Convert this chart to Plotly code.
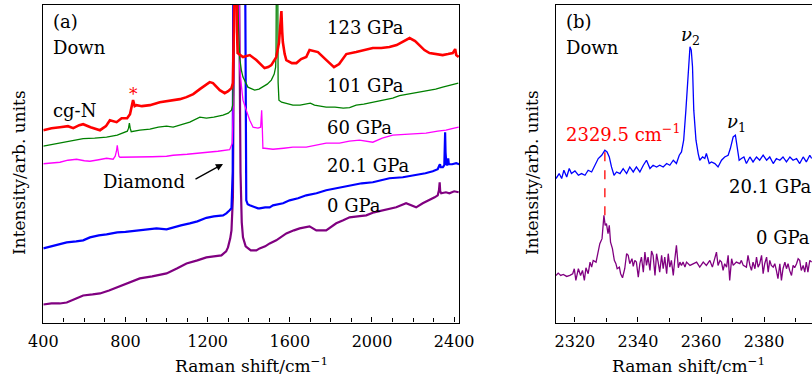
import plotly.graph_objects as go

# ---------------- Panel (a) data: Raman shift (cm^-1) vs intensity (arb. units)
red_x = [400, 440, 481, 520, 546, 575, 594, 630, 676, 705, 724, 757, 781, 808, 822, 830, 837, 845, 854, 880,
         919, 967, 1000, 1032, 1065, 1097, 1130, 1162, 1194, 1210, 1226, 1259, 1283, 1300, 1316, 1323, 1328,
         1333, 1338, 1343, 1346, 1372, 1405, 1437, 1477, 1495, 1510, 1534, 1547, 1555, 1559, 1563, 1566, 1575,
         1583, 1610, 1632, 1655, 1680, 1696, 1712, 1737, 1778, 1815, 1840, 1875, 1923, 1960, 2004, 2045, 2085,
         2120, 2150, 2183, 2210, 2231, 2255, 2280, 2310, 2344, 2370, 2393, 2405, 2410, 2422]
red_y = [192, 194, 195, 196, 194, 197, 198, 195, 192, 196, 202, 200, 204, 204, 208, 216, 222, 216, 217, 216,
         217, 220, 221, 222, 223, 225, 228, 233, 238, 240, 239, 232, 229, 231, 234, 239, 300,
         420, 420, 290, 269, 265, 267, 262, 254, 255, 257, 265, 279, 300, 311, 290, 280, 268,
         262, 259, 259, 263, 265, 272, 271, 270, 262, 255, 258, 268, 270, 272, 274, 274, 275,
         277, 280, 284, 281, 277, 272, 269, 268, 267, 268, 269, 273, 267, 265]

green_x = [400, 440, 481, 540, 594, 650, 708, 760, 789, 809, 815, 819, 823, 828, 870, 919, 960, 1000, 1032,
           1070, 1113, 1162, 1194, 1230, 1275, 1300, 1316, 1322, 1327, 1331, 1340, 1346, 1350, 1356, 1364,
           1372, 1396, 1429, 1450, 1469, 1490, 1510, 1524, 1531, 1533, 1536, 1540, 1543, 1547, 1560, 1583,
           1615, 1650, 1680, 1700, 1720, 1745, 1777, 1820, 1860, 1891, 1923, 1960, 2004, 2050, 2101, 2134,
           2198, 2240, 2280, 2310, 2344, 2380, 2420]
green_y = [176, 177.5, 179, 181, 183.5, 184, 185, 187, 189, 191, 194, 199, 194, 190.5, 192, 193, 195, 196, 195,
           197, 200, 205, 204, 205, 207, 209, 212, 217, 260, 420, 420, 320, 290, 264, 252,
           245, 235, 232, 233, 235, 238, 242, 248, 255, 270, 420, 420, 240, 222, 220, 219,
           217, 217, 218, 219, 217, 216, 215, 215, 214, 214.5, 217, 218, 220, 222, 224, 226.5,
           229, 230, 232, 233, 235, 237, 239]

magenta_x = [400, 440, 481, 520, 562, 600, 627, 670, 708, 740, 750, 756, 760, 764, 768, 773, 820, 873, 930,
             1000, 1032, 1100, 1162, 1194, 1250, 1307, 1320, 1325, 1330, 1352, 1356, 1365, 1372, 1388, 1405,
             1421, 1445, 1458, 1461, 1463, 1466, 1469, 1477, 1518, 1570, 1615, 1680, 1730, 1777, 1842, 1890,
             1939, 2004, 2050, 2101, 2180, 2263, 2320, 2360, 2400, 2422]
magenta_y = [158.5, 159.5, 160, 162, 163, 161.5, 161, 162.5, 164, 163, 166, 171, 177, 171, 166, 165, 165, 165, 165.5,
             166, 167, 168, 169, 170, 171, 172.5, 179, 220, 420, 420, 255, 235, 222, 212, 202,
             195, 194, 195, 205, 212, 195, 174, 174, 173, 174, 175, 175, 177, 179, 179, 181,
             182, 180, 184, 187, 188, 189, 191, 192, 194, 195]

blue_x = [400, 440, 480, 514, 560, 594, 627, 670, 708, 760, 800, 837, 900, 951, 1000, 1032, 1070, 1113, 1150,
          1194, 1230, 1275, 1291, 1307, 1316, 1322, 1326, 1381, 1384, 1388, 1395, 1405, 1445, 1453, 1480,
          1502, 1518, 1567, 1599, 1640, 1680, 1730, 1777, 1830, 1891, 1950, 2004, 2050, 2085, 2150, 2215,
          2260, 2296, 2320, 2328, 2331, 2335, 2345, 2352, 2355, 2356, 2358, 2362, 2368, 2371, 2374, 2390,
          2410, 2425]
blue_y = [74, 76, 78, 80, 81, 82, 85, 87, 88, 90, 90.5, 91.5, 93, 94, 93, 95, 97, 99, 101,
          104.5, 106, 107, 109, 112, 114, 150, 420, 420, 200, 122, 118, 117, 114, 114, 115,
          115, 117, 119, 122, 124, 127, 129, 132, 134, 137, 139, 140, 142, 144, 145, 147,
          149, 151, 153, 157, 158, 155, 155, 157, 175, 190, 170, 158, 157, 164, 158, 158,
          159, 158]

purple_x = [400, 440, 480, 514, 560, 594, 640, 676, 720, 757, 800, 840, 870, 930, 1000, 1050, 1097, 1150,
            1194, 1230, 1267, 1290, 1299, 1310, 1316, 1323, 1328, 1332, 1350, 1355, 1360, 1366, 1372, 1385,
            1410, 1437, 1453, 1480, 1502, 1534, 1560, 1583, 1620, 1648, 1696, 1729, 1777, 1826, 1860, 1891,
            1930, 1972, 2010, 2053, 2118, 2166, 2215, 2247, 2280, 2305, 2320, 2326, 2329.5, 2332, 2337, 2360,
            2377, 2400, 2422]
purple_y = [18, 19, 19, 20, 24, 27, 28, 29, 32, 35, 39, 42, 44, 46, 49, 54, 59, 62,
            65, 66, 67, 71, 75, 84, 92, 125, 250, 420, 420, 250, 150, 100, 85, 76,
            72, 72, 74, 76, 79, 82, 86, 89, 92, 94, 96, 92, 92, 99, 102, 105,
            106, 107, 110, 112, 115, 119, 115, 119, 122, 125, 127, 132, 140, 131, 129, 130,
            129, 131, 130]

# ---------------- Panel (b) data
b_blue_x = [2314.0, 2315.0, 2315.8, 2316.5, 2317.4, 2318.2, 2318.9, 2320.0, 2321.1, 2322.1, 2323.2, 2324.2,
            2325.3, 2326.3, 2327.4, 2328.5, 2329.5, 2330.2, 2330.9, 2331.6, 2332.4, 2333.2, 2334.3, 2335.3,
            2336.4, 2337.4, 2338.5, 2339.5, 2340.6, 2341.7, 2342.7, 2343.8, 2344.8, 2345.9, 2346.9, 2348.0,
            2349.1, 2350.1, 2351.2, 2352.2, 2353.1, 2353.8, 2354.5, 2355.2, 2355.9, 2356.5, 2356.9, 2357.3,
            2357.7, 2358.4, 2359.1, 2359.6, 2360.5, 2361.2, 2361.7, 2362.6, 2363.3, 2364.4, 2365.4, 2366.5,
            2367.5, 2368.6, 2369.3, 2370.2, 2370.9, 2371.5, 2372.1, 2372.8, 2373.6, 2374.4, 2375.5, 2376.5,
            2377.6, 2378.6, 2379.7, 2380.8, 2381.8, 2382.9, 2383.9, 2385.0, 2386.0, 2387.1, 2388.2, 2389.2,
            2390.3, 2391.3, 2392.4, 2393.4, 2394.5, 2395.1]
b_blue_y = [143.7, 148.7, 143.7, 152, 145.3, 153.7, 148.7, 151.3, 147, 148.7, 147, 152,
            150.3, 157, 163.7, 167, 172, 170.3, 165.3, 155.3, 147, 150.3, 148.7, 153.7,
            148.7, 155.3, 150.3, 155.3, 150.3, 157, 162, 153.7, 157, 155.3, 157, 155.3,
            158.7, 157, 162, 158.7, 167, 170.3, 182, 212, 248.7, 275.3, 272, 255.3,
            212, 182, 168.7, 162, 165.3, 163.7, 168.7, 158.7, 160.3, 158.7, 155.3, 162,
            165.3, 167, 173.7, 185.3, 187, 175.3, 162, 163.7, 165.3, 158.7, 165.3, 160.3,
            165.3, 162, 167, 162, 165.3, 158.7, 163.7, 162, 165.3, 160.3, 165.3, 162,
            163.7, 158.7, 165.3, 160.3, 167, 163.7]

b_purple_x = [2314.0, 2314.7, 2315.5, 2316.3, 2317.4, 2318.4, 2319.3, 2319.8, 2320.3, 2321.1, 2321.8, 2322.4,
              2323.0, 2323.5, 2324.2, 2324.8, 2325.3, 2325.8, 2326.7, 2327.2, 2327.9, 2328.6, 2329.2, 2329.6,
              2330.0, 2330.5, 2330.9, 2331.3, 2331.9, 2332.5, 2333.0, 2333.4, 2334.1, 2334.5, 2335.1, 2335.8,
              2336.4, 2336.9, 2337.4, 2338.1, 2338.5, 2339.0, 2339.5, 2340.1, 2340.6, 2341.1, 2341.7, 2342.2,
              2342.7, 2343.2, 2343.8, 2344.3, 2344.8, 2345.4, 2345.9, 2346.4, 2346.9, 2347.5, 2348.0, 2348.5,
              2349.1, 2349.6, 2350.1, 2350.6, 2351.2, 2351.7, 2352.2, 2352.8, 2353.3, 2353.8, 2354.3, 2354.9,
              2355.4, 2356.5, 2357.5, 2358.6, 2359.6, 2360.7, 2361.7, 2362.8, 2363.6, 2364.4, 2364.9, 2365.4,
              2366.0, 2366.5, 2367.0, 2367.5, 2368.1, 2368.6, 2369.1, 2369.7, 2370.2, 2371.2, 2372.3, 2372.8,
              2373.4, 2374.4, 2374.9, 2375.5, 2376.0, 2376.5, 2377.1, 2377.6, 2378.1, 2378.6, 2379.2, 2379.7,
              2380.2, 2380.8, 2381.3, 2381.8, 2382.3, 2382.9, 2383.4, 2383.9, 2384.4, 2385.0, 2385.5, 2386.0,
              2386.6, 2387.1, 2387.6, 2388.1, 2388.7, 2389.2, 2389.7, 2390.3, 2390.8, 2391.3, 2391.8, 2392.4,
              2392.9, 2393.4, 2393.9, 2394.5, 2395.1]
b_purple_y = [47, 49.3, 47, 48, 46, 47, 48.7, 53.7, 42, 53.7, 47, 52,
              42, 54.7, 48.7, 60.3, 55.3, 62, 60.3, 67, 78.7, 83.7, 107, 97,
              98.7, 88.7, 97, 80.3, 73.7, 62, 58.7, 53.7, 55.3, 48.7, 44.7, 53.7,
              68.7, 67, 58.7, 63.7, 56, 62, 60.3, 45.3, 58.7, 65.3, 50.3, 70.3,
              57, 65.3, 52, 71.3, 67, 47, 68.7, 60.3, 50.3, 67, 53.7, 65.3,
              48.7, 68.7, 55.3, 62, 47, 63.7, 77, 54.7, 60.3, 57, 60.3, 55.3,
              60.3, 57, 58.7, 60.3, 55.3, 60.3, 57, 62, 55.3, 63.7, 70.3, 57,
              62, 60.3, 52, 58.7, 55.3, 67, 42, 63.7, 57, 60.3, 58.7, 62,
              57, 55.3, 67, 57, 52, 60.3, 53.7, 65.3, 55.3, 58.7, 67, 48.7,
              58.7, 65.3, 50.3, 62, 57, 55.3, 58.7, 52, 43.7, 58.7, 42, 53.7,
              60.3, 53.7, 58.7, 52, 47, 57, 54.7, 58.7, 63.7, 62, 52, 57,
              50.3, 60.3, 50.3, 62, 60.3]

peak_b_x = 2329.5
peak_b_y = [170, 105]

x_ticks_a = [400, 800, 1200, 1600, 2000, 2400]
x_ticks_b = [2320, 2340, 2360, 2380]

W, H = 812, 383
FONT = "DejaVu Serif"
TS = 18  # text size

def px(x):
    return x / W

def py(y):
    return 1 - y / H

XA = [43.3, 459.3]
XB = [556, 812]
YD = [5, 322.5]

fig = go.Figure()

def add(x, y, color, width, axis):
    fig.add_trace(go.Scatter(x=x, y=y, mode="lines", line=dict(color=color, width=width),
                             xaxis=axis[0], yaxis=axis[1], showlegend=False, hoverinfo="skip"))

A = ("x", "y")
B = ("x2", "y2")
add(purple_x, purple_y, "#800080", 2.2, A)
add(blue_x, blue_y, "#0000ff", 2.2, A)
add(magenta_x, magenta_y, "#ff00ff", 1.3, A)
add(green_x, green_y, "#008000", 1.3, A)
add(red_x, red_y, "#ff0000", 2.6, A)

add(b_blue_x, b_blue_y, "#0000ff", 1.3, B)
add(b_purple_x, b_purple_y, "#800080", 1.3, B)
fig.add_trace(go.Scatter(x=[peak_b_x, peak_b_x], y=peak_b_y, mode="lines",
                         line=dict(color="#ff0000", width=1.3, dash="dash"),
                         xaxis="x2", yaxis="y2", showlegend=False, hoverinfo="skip"))

axis_common = dict(showline=True, linecolor="black", linewidth=1.3, showgrid=False, zeroline=False,
                   ticks="inside", tickcolor="black", tickwidth=1, ticklen=5, automargin=False,
                   tickfont=dict(family=FONT, size=16, color="black"))
yaxis_common = dict(domain=[py(YD[1]), py(YD[0])], range=[0, 317], showticklabels=False, ticks="",
                    showline=True, linecolor="black", linewidth=1.3, automargin=False,
                    showgrid=False, zeroline=False)

fig.update_layout(
    width=W, height=H, margin=dict(l=0, r=0, t=0, b=0),
    paper_bgcolor="white", plot_bgcolor="white",
    xaxis=dict(domain=[px(XA[0]), px(XA[1])], range=[400, 2425], tickvals=x_ticks_a,
               minor=dict(dtick=100, tick0=400, ticks="inside", ticklen=4, tickcolor="black"),
               mirror=True, ticklabelstandoff=4, anchor="y", **axis_common),
    yaxis=dict(mirror=True, anchor="x", **yaxis_common),
    xaxis2=dict(domain=[px(XB[0]), px(XB[1])], range=[2314, 2395.2], tickvals=x_ticks_b,
                minor=dict(dtick=10, tick0=2320, ticks="inside", ticklen=4, tickcolor="black"),
                mirror=True, ticklabelstandoff=4, anchor="y2", **axis_common),
    yaxis2=dict(mirror=False, anchor="x2", **yaxis_common),
)

def label(text, x, y, anchor="left", color="black", size=TS, angle=0):
    fig.add_annotation(text=text, x=px(x), y=py(y), xref="paper", yref="paper",
                       xanchor=anchor, yanchor="middle", showarrow=False, textangle=angle,
                       font=dict(family=FONT, size=size, color=color))

# axis titles
label("Raman shift/cm<sup>−1</sup>", 251, 365, anchor="center", size=17)
label("Raman shift/cm<sup>−1</sup>", 688, 365, anchor="center", size=17)
label("Intensity/arb. units", 19, 173, anchor="center", size=17, angle=-90)
label("Intensity/arb. units", 532, 173, anchor="center", size=17, angle=-90)

# panel (a) labels
label("(a)", 51, 21)
label("Down", 51, 47)
label("cg-N", 51, 110)
label("*", 133, 94, anchor="center", color="#ff0000", size=17)
label("123 GPa", 325, 27)
label("101 GPa", 325, 85)
label("60 GPa", 325, 127)
label("20.1 GPa", 325, 165)
label("0 GPa", 325, 205)
label("Diamond", 101, 181)
fig.add_annotation(x=px(223), y=py(164), ax=-29, ay=16, xref="paper", yref="paper",
                   axref="pixel", ayref="pixel", showarrow=True, arrowhead=2, arrowsize=1.1,
                   arrowwidth=1.3, arrowcolor="black", text="")

# panel (b) labels
label("(b)", 564, 21)
label("Down", 564, 47)
label("<i>ν</i><sub>2</sub>", 690, 36, anchor="center")
label("<i>ν</i><sub>1</sub>", 736, 123, anchor="center")
label("2329.5 cm<sup>−1</sup>", 564, 133, color="#ff0000")
label("20.1 GPa", 727, 186)
label("0 GPa", 754, 237)

fig.write_html("out.html")
